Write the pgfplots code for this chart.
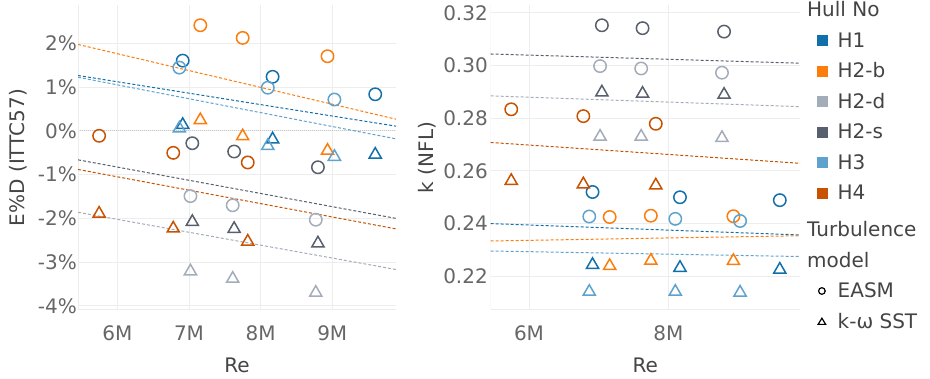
\documentclass[border=0pt]{standalone}
\usepackage{fontspec}
\setmainfont{DejaVu Sans}
\usepackage{pgfplots}
\pgfplotsset{compat=1.18}
\definecolor{cHa}{HTML}{1170AA}
\definecolor{cHb}{HTML}{FC7D0B}
\definecolor{cHd}{HTML}{A3ACB9}
\definecolor{cHs}{HTML}{57606C}
\definecolor{cHt}{HTML}{5FA2CE}
\definecolor{cHf}{HTML}{C85200}
\definecolor{tickgray}{HTML}{666666}
\definecolor{labgray}{HTML}{444444}
\definecolor{gridc}{HTML}{EDEDED}
\definecolor{zeroc}{HTML}{C8C8C8}
\newcommand{\fsz}{\fontsize{20}{24}\selectfont}
\newcommand{\ls}{\rule{0pt}{15.5pt}\rule[-0.5pt]{0pt}{1pt}}
\newcommand{\lt}{\rule{0pt}{22pt}\rule[-0.5pt]{0pt}{1pt}}
\pgfplotsset{
  panel/.style={
    scale only axis, height=305pt,
    xmin=5.45, xmax=9.89,
    axis line style={draw=none},
    major tick length=0pt,
    xmajorgrids, ymajorgrids,
    grid style={draw=gridc, line width=1pt},
    tick label style={font=\fsz, text=tickgray, inner sep=0pt},
    xticklabel style={anchor=north, yshift=-15.7pt},
    yticklabel style={anchor=east},
    label style={font=\fsz, text=labgray},
    xlabel={Re},
    xlabel style={at={(axis description cs:0.5,-0.183)}, anchor=center},
  },
  circ/.style={only marks, mark=o, mark size=6.2pt, line width=1.5pt, forget plot},
  tri/.style={only marks, mark=triangle, mark size=7pt, line width=1.5pt, mark options={yshift=-1.75pt}, forget plot},
  trend/.style={no marks, line width=1pt, dash pattern=on 3pt off 2pt, forget plot},
}
\begin{document}
\begin{tikzpicture}
\path[use as bounding box] (0,0) rectangle (930pt,379pt);
% ---------------- left panel ----------------
\begin{axis}[panel,
  at={(78pt,69pt)}, anchor=south west, width=318pt,
  ymin=-4.096, ymax=2.883,
  xtick={6,7,8,9}, xticklabels={6M,7M,8M,9M},
  ytick={-4,-3,-2,-1,0,1,2},
  yticklabels={-4\%,-3\%,-2\%,-1\%,0\%,1\%,2\%},
  yticklabel style={xshift=-1pt},
  extra y ticks={0}, extra y tick labels={},
  extra y tick style={grid style={draw=zeroc, line width=1pt, dash pattern=on 1pt off 1pt}},
  ylabel={E\%D (ITTC57)},
  ylabel style={at={(axis description cs:-0.1865,0.5)}, anchor=center},
]
\draw[gridc, line width=1pt] (rel axis cs:0,1) -- (rel axis cs:0,0) -- (rel axis cs:1,0);
% trend lines
\addplot[trend, cHb] coordinates {(5.45,1.98) (9.89,0.27)};
\addplot[trend, cHa] coordinates {(5.45,1.27) (9.89,0.11)};
\addplot[trend, cHt] coordinates {(5.45,1.23) (9.89,-0.18)};
\addplot[trend, cHs] coordinates {(5.45,-0.66) (9.89,-2.00)};
\addplot[trend, cHf] coordinates {(5.45,-0.88) (9.89,-2.24)};
\addplot[trend, cHd] coordinates {(5.45,-1.86) (9.89,-3.17)};
% EASM
\addplot[circ, cHa] coordinates {(6.912,1.61) (8.167,1.24) (9.60,0.84)};
\addplot[circ, cHb] coordinates {(7.158,2.42) (7.749,2.13) (8.934,1.71)};
\addplot[circ, cHd] coordinates {(7.02,-1.49) (7.61,-1.70) (8.77,-2.03)};
\addplot[circ, cHs] coordinates {(7.046,-0.28) (7.63,-0.47) (8.80,-0.83)};
\addplot[circ, cHt] coordinates {(6.865,1.45) (8.10,0.99) (9.03,0.72)};
\addplot[circ, cHf] coordinates {(5.745,-0.11) (6.78,-0.50) (7.82,-0.72)};
% k-omega SST
\addplot[tri, cHa] coordinates {(6.912,0.18) (8.167,-0.15) (9.60,-0.50)};
\addplot[tri, cHb] coordinates {(7.158,0.29) (7.749,-0.08) (8.934,-0.41)};
\addplot[tri, cHd] coordinates {(7.02,-3.17) (7.61,-3.34) (8.77,-3.66)};
\addplot[tri, cHs] coordinates {(7.046,-2.04) (7.63,-2.20) (8.80,-2.53)};
\addplot[tri, cHt] coordinates {(6.865,0.10) (8.10,-0.30) (9.03,-0.55)};
\addplot[tri, cHf] coordinates {(5.745,-1.85) (6.78,-2.19) (7.82,-2.49)};
\end{axis}
% ---------------- right panel ----------------
\begin{axis}[panel,
  at={(490.7pt,69pt)}, anchor=south west, width=309.3pt,
  ymin=0.2072, ymax=0.3230,
  xtick={6,8}, xticklabels={6M,8M},
  ytick={0.22,0.24,0.26,0.28,0.30,0.32},
  yticklabels={0.22,0.24,0.26,0.28,0.30,0.32},
  yticklabel style={xshift=-2.7pt},
  ylabel={k (NFL)},
  ylabel style={at={(axis description cs:-0.206,0.5)}, anchor=center},
  legend cell align=left,
  legend style={draw=none, fill=none, at={(axis description cs:1,1)}, anchor=north west,
    xshift=8.3pt, yshift=3.5pt, inner sep=0pt, outer sep=0pt, row sep=13.5pt,
    font=\fsz, text=labgray, nodes={inner sep=0pt, outer sep=0pt, text=labgray},
    /tikz/every odd column/.append style={column sep=10.6pt}},
]
\draw[gridc, line width=1pt] (rel axis cs:0,1) -- (rel axis cs:0,0) -- (rel axis cs:1,0);
% trend lines
\addplot[trend, cHs] coordinates {(5.45,0.3044) (9.89,0.3009)};
\addplot[trend, cHd] coordinates {(5.45,0.2885) (9.89,0.2844)};
\addplot[trend, cHf] coordinates {(5.45,0.2708) (9.89,0.2629)};
\addplot[trend, cHa] coordinates {(5.45,0.2400) (9.89,0.2357)};
\addplot[trend, cHb] coordinates {(5.45,0.2334) (9.89,0.2354)};
\addplot[trend, cHt] coordinates {(5.45,0.2296) (9.89,0.2275)};
% EASM
\addplot[circ, cHa] coordinates {(6.912,0.2520) (8.167,0.2500) (9.60,0.2489)};
\addplot[circ, cHb] coordinates {(7.158,0.2425) (7.749,0.2430) (8.934,0.2428)};
\addplot[circ, cHd] coordinates {(7.02,0.2998) (7.61,0.2989) (8.77,0.2973)};
\addplot[circ, cHs] coordinates {(7.046,0.3153) (7.63,0.3142) (8.80,0.3129)};
\addplot[circ, cHt] coordinates {(6.865,0.2427) (8.10,0.2418) (9.03,0.2410)};
\addplot[circ, cHf] coordinates {(5.745,0.2834) (6.78,0.2808) (7.82,0.2779)};
% k-omega SST
\addplot[tri, cHa] coordinates {(6.912,0.2250) (8.167,0.2239) (9.60,0.2232)};
\addplot[tri, cHb] coordinates {(7.158,0.2246) (7.749,0.2266) (8.934,0.2265)};
\addplot[tri, cHd] coordinates {(7.02,0.2737) (7.61,0.2737) (8.77,0.2732)};
\addplot[tri, cHs] coordinates {(7.046,0.2905) (7.63,0.2900) (8.80,0.2896)};
\addplot[tri, cHt] coordinates {(6.865,0.2148) (8.10,0.2148) (9.03,0.2145)};
\addplot[tri, cHf] coordinates {(5.745,0.2569) (6.78,0.2556) (7.82,0.2552)};
% legend
\addlegendimage{empty legend}
\addlegendentry{\makebox[0pt][l]{\hspace*{-31pt}Hull No}\ls}
\addlegendimage{legend image code/.code={\path (-13.4pt,0pt) (5pt,0pt); \fill[cHa] (-5pt,-5pt) rectangle (5pt,5pt);}}
\addlegendentry{H1\ls}
\addlegendimage{legend image code/.code={\path (-13.4pt,0pt) (5pt,0pt); \fill[cHb] (-5pt,-5pt) rectangle (5pt,5pt);}}
\addlegendentry{H2-b\ls}
\addlegendimage{legend image code/.code={\path (-13.4pt,0pt) (5pt,0pt); \fill[cHd] (-5pt,-5pt) rectangle (5pt,5pt);}}
\addlegendentry{H2-d\ls}
\addlegendimage{legend image code/.code={\path (-13.4pt,0pt) (5pt,0pt); \fill[cHs] (-5pt,-5pt) rectangle (5pt,5pt);}}
\addlegendentry{H2-s\ls}
\addlegendimage{legend image code/.code={\path (-13.4pt,0pt) (5pt,0pt); \fill[cHt] (-5pt,-5pt) rectangle (5pt,5pt);}}
\addlegendentry{H3\ls}
\addlegendimage{legend image code/.code={\path (-13.4pt,0pt) (5pt,0pt); \fill[cHf] (-5pt,-5pt) rectangle (5pt,5pt);}}
\addlegendentry{H4\ls}
\addlegendimage{empty legend}
\addlegendentry{\makebox[0pt][l]{\hspace*{-31pt}Turbulence}\lt}
\addlegendimage{empty legend}
\addlegendentry{\makebox[0pt][l]{\hspace*{-31pt}model}\ls}
\addlegendimage{legend image code/.code={\path (-13.4pt,0pt) (5pt,0pt); \draw[black, line width=1.2pt] (0pt,0pt) circle (3.3pt);}}
\addlegendentry{EASM\ls}
\addlegendimage{legend image code/.code={\path (-13.4pt,0pt) (5pt,0pt); \draw[black, line width=1.2pt, line join=miter] (0pt,3.3pt) -- (-3.8pt,-2.9pt) -- (3.8pt,-2.9pt) -- cycle;}}
\addlegendentry{k-ω SST\ls}
\end{axis}
\end{tikzpicture}
\end{document}
